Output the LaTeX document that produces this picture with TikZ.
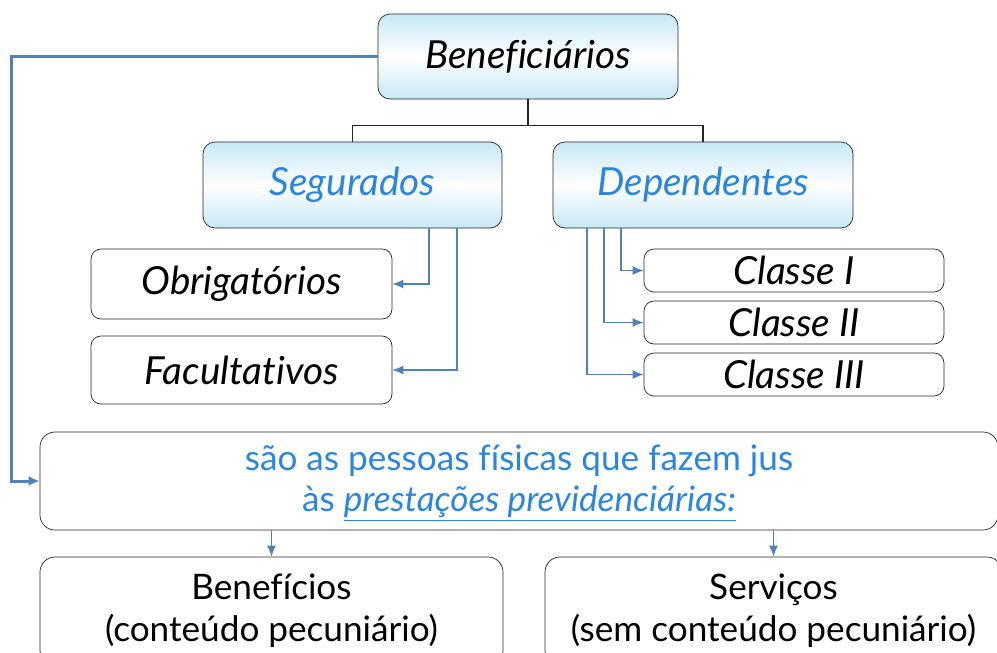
\documentclass[tikz,border=0pt]{standalone}
\usepackage{fontspec}
\setmainfont{Lato}[Ligatures=NoCommon]
\usepackage{tikz}
\usetikzlibrary{arrows.meta}

\definecolor{boxblue}{RGB}{198,232,245}
\definecolor{textblue}{RGB}{44,134,222}
\definecolor{lineblue}{RGB}{79,129,189}

\begin{document}
\begin{tikzpicture}[
    topbox/.style={draw=black!85,rounded corners=0.24cm,top color=boxblue,bottom color=boxblue,middle color=white,inner sep=0pt,font=\fontsize{22}{24}\selectfont\itshape},
    subbox/.style={draw=black!85,fill=white,rounded corners=0.2cm,inner sep=0pt,font=\fontsize{22}{24}\selectfont\itshape},
    infobox/.style={draw=black!85,fill=white,rounded corners=0.3cm,inner sep=0pt,align=center,font=\fontsize{20}{23}\selectfont},
    link/.style={lineblue,-{Latex[length=2.2mm,width=1.8mm]},line width=0.7pt}]
    \useasboundingbox (0,0) rectangle (19.94,-13.04);

    \node[topbox,minimum width=6cm,minimum height=1.7cm] (ben) at (10.56,-1.13) {Beneficiários};
    \node[topbox,minimum width=5.98cm,minimum height=1.72cm,text=textblue] (seg) at (7.05,-3.7) {Segurados};
    \node[topbox,minimum width=6cm,minimum height=1.72cm,text=textblue] (dep) at (14.06,-3.7) {Dependentes};

    \node[subbox,minimum width=6.02cm,minimum height=1.4cm] (obr) at (4.83,-5.68) {Obrigatórios};
    \node[subbox,minimum width=6.02cm,minimum height=1.36cm] (fac) at (4.83,-7.4) {Facultativos};
    \node[subbox,minimum width=6cm,minimum height=0.86cm] (c1) at (15.88,-5.41) {Classe I};
    \node[subbox,minimum width=6cm,minimum height=0.86cm] (c2) at (15.88,-6.45) {Classe II};
    \node[subbox,minimum width=6cm,minimum height=0.86cm] (c3) at (15.88,-7.49) {Classe III};

    \node[infobox,minimum width=19.16cm,minimum height=1.96cm,text=textblue] (pres) at (10.38,-9.62)
        {\\[-6pt]são as pessoas físicas que fazem jus\\às \underline{\textit{prestações previdenciárias:}}};
    \node[infobox,minimum width=9.26cm,minimum height=2.16cm,font=\fontsize{20}{24}\selectfont] (bene) at (5.43,-12.22)
        {Benefícios\\(conteúdo pecuniário)};
    \node[infobox,minimum width=9.14cm,minimum height=2.16cm,font=\fontsize{20}{24}\selectfont] (serv) at (15.47,-12.22)
        {Serviços\\(sem conteúdo pecuniário)};

    % tree under Beneficiarios
    \draw[black!85,line width=0.7pt] (ben.south) -- ++(0,-0.52) coordinate (fork);
    \draw[black!85,line width=0.7pt] (seg.north) |- (fork) -| (dep.north);

    % left feed into the big box
    \draw[lineblue,line width=1.7pt,-{Latex[length=2.2mm,width=2mm]}] (ben.west) -- ++(-7.32,0) |- (pres.west);

    \draw[link] ([xshift=1.53cm]seg.south) |- (obr.east);
    \draw[link] ([xshift=2.09cm]seg.south) |- (fac.east);
    \draw[link] ([xshift=-1.64cm]dep.south) |- (c1.west);
    \draw[link] ([xshift=-1.98cm]dep.south) |- (c2.west);
    \draw[link] ([xshift=-2.32cm]dep.south) |- (c3.west);

    \draw[link] (pres.south -| bene.north) -- (bene.north);
    \draw[link] (pres.south -| serv.north) -- (serv.north);
  \end{tikzpicture}
\end{document}
